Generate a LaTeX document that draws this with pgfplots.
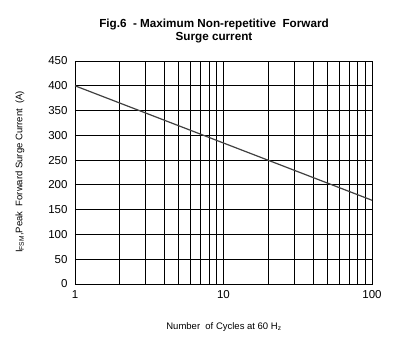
\documentclass[border=0pt]{standalone}
\usepackage{fontspec}
\setmainfont{Liberation Sans}
\usepackage{pgfplots}
\pgfplotsset{compat=1.18}
\begin{document}
\begin{tikzpicture}[x=1pt,y=1pt]
\useasboundingbox (0,0) rectangle (408,354);
\begin{axis}[
  at={(75pt,70pt)}, anchor=south west,
  scale only axis, width=297pt, height=223pt,
  xmode=log, xmin=1, xmax=100,
  ymin=0, ymax=450, ytick={0,50,...,450},
  xtick={1,10,100}, xticklabels={1,10,100},
  minor xtick={2,3,4,5,6,7,8,9,20,30,40,50,60,70,80,90},
  grid=both,
  major grid style={black, line width=0.8pt},
  minor grid style={black, line width=0.8pt},
  axis line style={black, line width=0.8pt},
  tick style={draw=none},
  /pgf/number format/assume math mode=true,
  ticklabel style={font=\fontsize{11.5}{13}\selectfont},
  yticklabel style={xshift=-4pt},
  xticklabel style={yshift=-3pt},
  clip=false,
]
\addplot[color=black!75, line width=1.2pt] coordinates {(1,400) (100,169)};
\end{axis}
\node[font=\bfseries\fontsize{11.7}{13}\selectfont, align=center] at (214,323) {Fig.6\ \ - Maximum Non-repetitive\ \ Forward\\Surge current};
\node[font=\fontsize{9.5}{11}\selectfont] at (224,27) {Number\ \ of Cycles at 60 H\textsubscript{z}};
\node[font=\fontsize{9.5}{11}\selectfont, rotate=90] at (20,182) {I\textsubscript{FSM},Peak\ \ Forward Surge Current\ \ (A)};
\end{tikzpicture}
\end{document}
